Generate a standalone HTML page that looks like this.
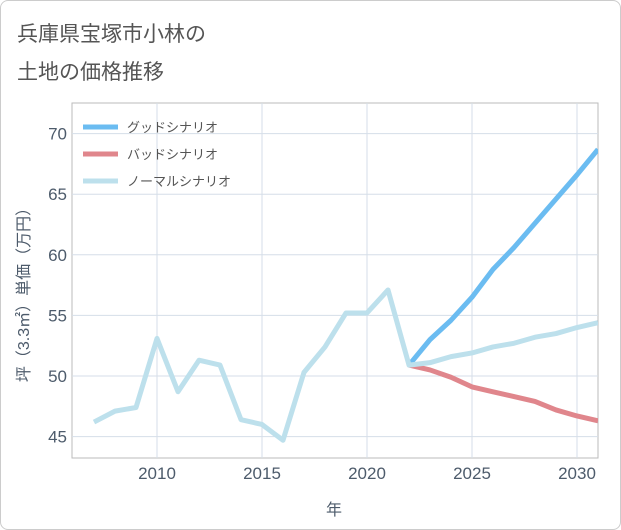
<!DOCTYPE html>
<html><head><meta charset="utf-8"><style>
body{margin:0;background:#fff;font-family:"Liberation Sans","Noto Sans CJK JP",sans-serif}
#c{position:relative;width:619px;height:528px;border:1px solid #ccc;border-radius:8px;overflow:hidden}
</style></head><body>
<div id="c">
<svg id="s" width="619" height="528"><defs><clipPath id="pc"><rect x="71" y="102" width="526" height="355"/></clipPath></defs></svg>
</div>
<script>
const years=[2007,2008,2009,2010,2011,2012,2013,2014,2015,2016,2017,2018,2019,2020,2021,2022,2023,2024,2025,2026,2027,2028,2029,2030,2031];
const normal=[46.2,47.1,47.4,53.1,48.7,51.3,50.9,46.4,46.0,44.7,50.3,52.4,55.2,55.2,57.1,50.9,51.1,51.6,51.9,52.4,52.7,53.2,53.5,54.0,54.4];
const goodYears=[2022,2023,2024,2025,2026,2027,2028,2029,2030,2031];
const good=[50.9,53.0,54.6,56.5,58.8,60.6,62.6,64.6,66.6,68.7];
const bad=[50.9,50.5,49.9,49.1,48.7,48.3,47.9,47.2,46.7,46.3];
const xTicks=[2010,2015,2020,2025,2030];
const yTicks=[45,50,55,60,65,70];
const NS='http://www.w3.org/2000/svg';
const svg=document.getElementById('s');
const X=v=>156+(v-2010)*21, Y=v=>375-(v-50)*12.12;
const L=71,R=597,T=102,B=457;
const TC='#4d5b6b';
function el(t,a,txt){const e=document.createElementNS(NS,t);for(const k in a)e.setAttribute(k,a[k]);if(txt!==undefined)e.textContent=txt;svg.appendChild(e);return e;}
let e;
e=el('text',{x:16,y:40,'font-size':21,fill:'#555'},'兵庫県宝塚市小林の');

e=el('text',{x:16,y:78,'font-size':21,fill:'#555'},'土地の価格推移');

e=el('rect',{x:L,y:T,width:R-L,height:B-T,fill:'none',stroke:'#bbb'});

xTicks.forEach(t=>{e=el('line',{x1:X(t),x2:X(t),y1:T,y2:B,stroke:'#d5dee8'});
e=el('text',{x:X(t),y:478,'font-size':17,fill:TC,'text-anchor':'middle'},t);});
yTicks.forEach(t=>{e=el('line',{x1:L,x2:R,y1:Y(t),y2:Y(t),stroke:'#d5dee8'});
e=el('text',{x:66,y:Y(t)+6,'font-size':17,fill:TC,'text-anchor':'end'},t);});
e=el('text',{x:333,y:514,'font-size':16,fill:TC,'text-anchor':'middle'},'年');

e=el('text',{x:0,y:0,'font-size':16,fill:TC,'text-anchor':'middle',transform:'translate(28,290) rotate(-90)'},'坪（3.3㎡）単価（万円）');

function line(xs,vs,c,n){const d=vs.map((v,i)=>(i?'L':'M')+X(xs[i])+','+Y(v)).join('');
e=el('path',{d:d,fill:'none',stroke:c,'stroke-width':5,'stroke-linejoin':'round','clip-path':'url(#pc)'});}
line(goodYears,good,'#6bbcf1','good-line');
line(goodYears,bad,'#e0868c','bad-line');
line(years,normal,'#bde0ec','normal-line');
[['グッドシナリオ','#6bbcf1'],['バッドシナリオ','#e0868c'],['ノーマルシナリオ','#bde0ec']].forEach((g,i)=>{const y=126+i*27;
e=el('line',{x1:82,x2:117,y1:y,y2:y,stroke:g[1],'stroke-width':5});
e=el('text',{x:126,y:y+5,'font-size':13,fill:'#555'},g[0]);});
</script>
</body></html>
